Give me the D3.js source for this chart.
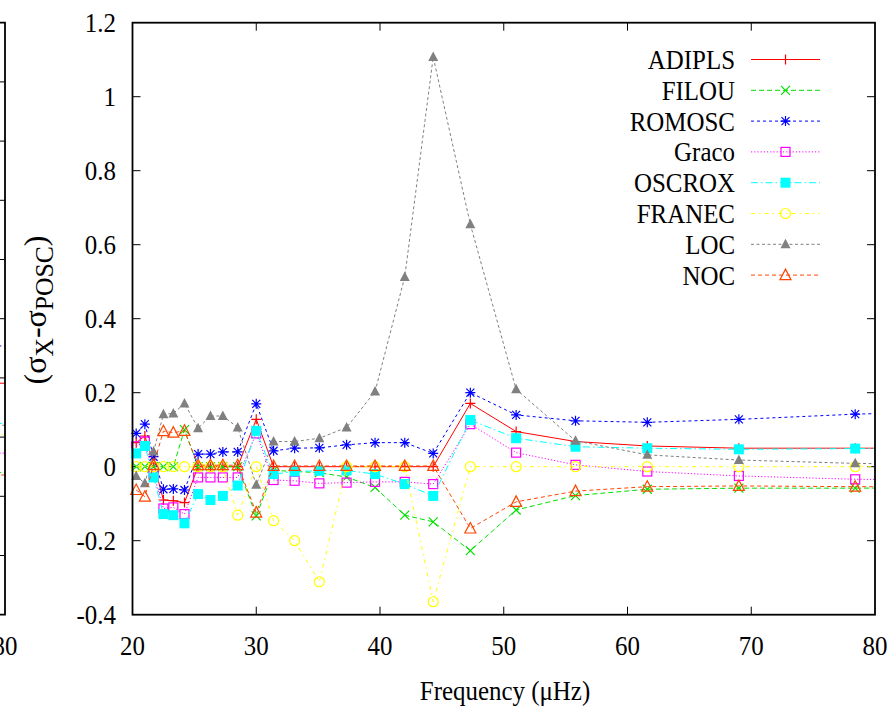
<!DOCTYPE html>
<html>
<head>
<meta charset="utf-8">
<script src="https://cdn.jsdelivr.net/npm/d3@7"></script>
<style>
  body { margin: 0; background: #fff; }
  svg { display: block; }
</style>
</head>
<body>
<svg id="chart" width="894" height="710" font-family="'Liberation Serif', 'DejaVu Serif', serif"></svg>
<script>
// Mode frequencies (µHz); the last entry lies past the axis and is only reached by the clipped line ends
const freq   = [20.3, 21.0, 21.7, 22.5, 23.3, 24.2, 25.3, 26.3, 27.3, 28.5, 30.0, 31.4, 33.1, 35.1, 37.3, 39.6, 42.0, 44.3, 47.3, 51.0, 55.8, 61.6, 69.0, 78.4, 89.5];

// sigma_X - sigma_POSC for each code
const adipls = [0.065, 0.083, 0.010, -0.090, -0.092, -0.097, 0.000, 0.000, 0.000, 0.000, 0.128, 0.000, 0.000, 0.000, 0.000, 0.000, 0.000, 0.000, 0.171, 0.095, 0.068, 0.056, 0.050, 0.050, 0.050];
const filou  = [0.000, 0.000, 0.000, 0.000, 0.000, 0.100, 0.000, 0.000, 0.000, 0.000, -0.133, -0.010, -0.013, -0.016, -0.028, -0.056, -0.131, -0.149, -0.227, -0.117, -0.078, -0.061, -0.058, -0.058, -0.057];
const romosc = [0.090, 0.115, 0.027, -0.061, -0.060, -0.063, 0.034, 0.034, 0.040, 0.040, 0.170, 0.043, 0.050, 0.051, 0.059, 0.065, 0.065, 0.036, 0.200, 0.140, 0.124, 0.120, 0.128, 0.142, 0.152];
const graco  = [0.055, 0.068, -0.020, -0.113, -0.110, -0.128, -0.029, -0.029, -0.029, -0.029, 0.090, -0.036, -0.038, -0.045, -0.043, -0.041, -0.041, -0.047, 0.115, 0.038, 0.005, -0.013, -0.025, -0.034, -0.037];
const oscrox = [0.036, 0.056, -0.029, -0.128, -0.131, -0.153, -0.074, -0.090, -0.079, -0.051, 0.097, -0.020, -0.013, -0.011, -0.010, -0.020, -0.047, -0.079, 0.126, 0.077, 0.054, 0.050, 0.047, 0.049, 0.049];
const franec = [0.000, 0.000, 0.000, 0.000, 0.000, 0.000, 0.000, 0.000, 0.000, -0.131, 0.000, -0.146, -0.200, -0.311, 0.000, 0.000, 0.000, -0.365, 0.000, 0.000, 0.000, 0.000, 0.000, 0.000, 0.000];
const loc    = [-0.025, -0.045, 0.041, 0.142, 0.144, 0.171, 0.104, 0.137, 0.137, 0.106, -0.049, 0.068, 0.068, 0.077, 0.106, 0.203, 0.513, 1.107, 0.655, 0.209, 0.070, 0.032, 0.018, 0.009, 0.004];
const noc    = [-0.063, -0.081, 0.005, 0.096, 0.092, 0.097, 0.004, 0.004, 0.004, 0.004, -0.124, 0.002, 0.002, 0.002, 0.002, 0.002, 0.002, 0.002, -0.167, -0.095, -0.066, -0.054, -0.052, -0.054, -0.055];

const seriesNames = ["ADIPLS", "FILOU", "ROMOSC", "Graco", "OSCROX", "FRANEC", "LOC", "NOC"];
const seriesValues = [adipls, filou, romosc, graco, oscrox, franec, loc, noc];

// Neighbouring panel (only its right edge is in view): line ends at 80 µHz
const leftFreq   = [78.0, 80.0];
const leftValues = [-0.009, -0.160, 0.054, -0.127, -0.077, -0.096, -0.080, -0.164];

const xTicks = [20, 30, 40, 50, 60, 70, 80];
const yTicks = [-0.4, -0.2, 0, 0.2, 0.4, 0.6, 0.8, 1, 1.2];
const leftYTicks = d3.range(0, 11).map(i => -0.4 + i * 0.1);

// Styles per series
const colors  = ["#ff0000", "#00e000", "#0000ff", "#ff00ff", "#00ffff", "#ffff00", "#808080", "#ff4500"];
const dashes  = [null, "5,3", "3,3", "1.2,2", "7,3,1.5,3", "4,4,1.5,4", "3,2.5", "4,3"];
const markers = ["plus", "cross", "star", "square", "fsquare", "circle", "ftriangle", "triangle"];

const plot = { left: 132.5, right: 875, top: 22.7, bottom: 614.7 };
const SX = 0.89;        // horizontal squeeze of all lettering
const FS = 28;          // font size

const svg = d3.select("#chart");
const x = d3.scaleLinear().domain([20, 80]).range([plot.left, plot.right]);
const y = d3.scaleLinear().domain([-0.4, 1.2]).range([plot.bottom, plot.top]);

// left neighbour panel shares the vertical extent; its right frame sits at x = 5
const xL = d3.scaleLinear().domain([20, 80]).range([5 - (plot.right - plot.left), 5]);
const yL = d3.scaleLinear().domain([-0.4, 0.6]).range([plot.bottom, plot.top]);

const defs = svg.append("defs");
defs.append("clipPath").attr("id", "clipMain").append("rect")
  .attr("x", plot.left).attr("y", plot.top)
  .attr("width", plot.right - plot.left).attr("height", plot.bottom - plot.top);
defs.append("clipPath").attr("id", "clipLeft").append("rect")
  .attr("x", xL(20)).attr("y", plot.top)
  .attr("width", xL(80) - xL(20)).attr("height", plot.bottom - plot.top);

function addText(g, str, tx, ty, anchor, size) {
  return g.append("text")
    .attr("transform", `translate(${tx},${ty}) scale(${SX},1)`)
    .attr("text-anchor", anchor)
    .attr("font-size", size || FS)
    .attr("fill", "#000")
    .text(str);
}

function drawMarker(g, type, cx, cy, color) {
  const m = g.append("g").attr("transform", `translate(${cx},${cy})`);
  const s = 5;
  if (type === "plus") {
    m.append("path").attr("d", `M${-s},0H${s}M0,${-s}V${s}`).attr("stroke", color).attr("fill", "none").attr("stroke-width", 1.2);
  } else if (type === "cross") {
    m.append("path").attr("d", `M-4.5,-4.5L4.5,4.5M-4.5,4.5L4.5,-4.5`).attr("stroke", color).attr("fill", "none").attr("stroke-width", 1.2);
  } else if (type === "star") {
    m.append("path").attr("d", `M${-s},0H${s}M0,${-s}V${s}M-4,-4L4,4M-4,4L4,-4`).attr("stroke", color).attr("fill", "none").attr("stroke-width", 1.2);
  } else if (type === "square") {
    m.append("rect").attr("x", -4.5).attr("y", -4.5).attr("width", 9).attr("height", 9)
      .attr("stroke", color).attr("fill", "none").attr("stroke-width", 1.2);
  } else if (type === "fsquare") {
    m.append("rect").attr("x", -5).attr("y", -5).attr("width", 10).attr("height", 10).attr("fill", color);
  } else if (type === "circle") {
    m.append("circle").attr("r", 5).attr("stroke", color).attr("fill", "none").attr("stroke-width", 1.2);
  } else if (type === "ftriangle") {
    m.append("path").attr("d", "M0,-5.5L5,4H-5Z").attr("fill", color);
  } else if (type === "triangle") {
    m.append("path").attr("d", "M0,-6L5.5,4.5H-5.5Z").attr("fill", "none").attr("stroke", color).attr("stroke-width", 1.2);
  }
}

// ---- neighbouring panel edge ----
const gLeft = svg.append("g");
const lineL = d3.line().x(d => xL(d[0])).y(d => yL(d[1]));
seriesValues.forEach((vals, i) => {
  gLeft.append("path")
    .attr("clip-path", "url(#clipLeft)")
    .attr("d", lineL(leftFreq.map(f => [f, leftValues[i]])))
    .attr("fill", "none").attr("stroke", colors[i]).attr("stroke-width", 1)
    .attr("stroke-dasharray", dashes[i]);
});
gLeft.selectAll("line.lt").data(leftYTicks.slice(1, -1)).join("line")
  .attr("x1", xL(80) - 8).attr("x2", xL(80))
  .attr("y1", d => yL(d)).attr("y2", d => yL(d))
  .attr("stroke", "#000").attr("stroke-width", 1);
gLeft.append("path")
  .attr("d", `M${xL(70)},${plot.top}H${xL(80)}V${plot.bottom}H${xL(70)}`)
  .attr("fill", "none").attr("stroke", "#000").attr("stroke-width", 1.8);
addText(gLeft, "80", xL(80), 655, "middle");

// ---- main panel ----
const gMain = svg.append("g");

// ticks, inward on all four sides
xTicks.slice(1, -1).forEach(t => {
  gMain.append("line").attr("x1", x(t)).attr("x2", x(t)).attr("y1", plot.bottom).attr("y2", plot.bottom - 8).attr("stroke", "#000");
  gMain.append("line").attr("x1", x(t)).attr("x2", x(t)).attr("y1", plot.top).attr("y2", plot.top + 8).attr("stroke", "#000");
});
yTicks.slice(1, -1).forEach(t => {
  gMain.append("line").attr("x1", plot.left).attr("x2", plot.left + 8).attr("y1", y(t)).attr("y2", y(t)).attr("stroke", "#000");
  gMain.append("line").attr("x1", plot.right).attr("x2", plot.right - 8).attr("y1", y(t)).attr("y2", y(t)).attr("stroke", "#000");
});

// tick labels
xTicks.forEach(t => addText(gMain, String(t), x(t), 655, "middle"));
yTicks.forEach(t => addText(gMain, String(t), 116, y(t) + 9.5, "end"));

// axis titles
addText(gMain, "Frequency (\u03bcHz)", 505, 700, "middle");
const YFS = 32;
const yt = gMain.append("text")
  .attr("transform", `translate(46,310) rotate(-90)`)
  .attr("text-anchor", "middle").attr("font-size", YFS).attr("fill", "#000");
yt.append("tspan").text("(\u03c3");
yt.append("tspan").attr("font-size", YFS * 0.8).attr("dy", 7).text("X");
yt.append("tspan").attr("dy", -7).text("-\u03c3");
yt.append("tspan").attr("font-size", YFS * 0.8).attr("dy", 7).text("POSC");
yt.append("tspan").attr("dy", -7).text(")");

// series lines and markers
const line = d3.line().x(d => x(d[0])).y(d => y(d[1]));
const gSeries = gMain.append("g");
seriesValues.forEach((vals, i) => {
  const pts = freq.map((f, k) => [f, vals[k]]);
  const g = gSeries.append("g");
  g.append("path")
    .attr("clip-path", "url(#clipMain)")
    .attr("d", line(pts))
    .attr("fill", "none").attr("stroke", colors[i]).attr("stroke-width", 1)
    .attr("stroke-dasharray", dashes[i]);
  pts.filter(p => p[0] <= 80).forEach(p => drawMarker(g, markers[i], x(p[0]), y(p[1]), colors[i]));
});

// frame
gMain.append("rect")
  .attr("x", plot.left).attr("y", plot.top)
  .attr("width", plot.right - plot.left).attr("height", plot.bottom - plot.top)
  .attr("fill", "none").attr("stroke", "#000").attr("stroke-width", 1.8);

// legend
const legend = gMain.append("g");
const legTop = 59.5, legStep = 30.8;
seriesNames.forEach((name, i) => {
  const ly = legTop + i * legStep;
  addText(legend, name, 735, ly + 9.5, "end");
  legend.append("line").attr("x1", 751).attr("x2", 820).attr("y1", ly).attr("y2", ly)
    .attr("stroke", colors[i]).attr("stroke-width", 1).attr("stroke-dasharray", dashes[i]);
  drawMarker(legend, markers[i], 785.5, ly, colors[i]);
});
</script>
</body>
</html>
